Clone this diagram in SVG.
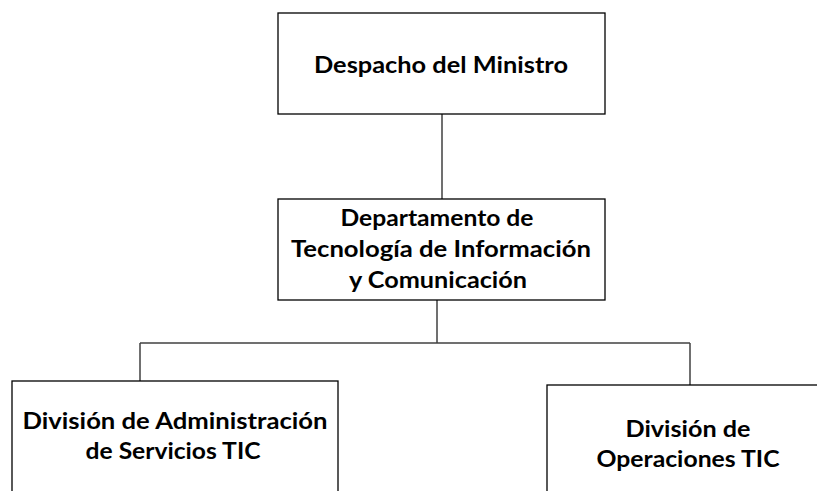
<svg xmlns="http://www.w3.org/2000/svg" width="817" height="491" viewBox="0 0 817 491">
  <style>
    .box { fill: #ffffff; stroke: #000000; stroke-width: 1.3; }
    .conn { fill: none; stroke: #404040; stroke-width: 1.5; }
    .lbl { font-family: Lato, "Open Sans", "Liberation Sans", sans-serif; font-weight: bold; font-size: 23px; fill: #000000; text-anchor: middle; }
  </style>
  <rect width="817" height="491" fill="#ffffff"/>
  <g id="connectors">
    <line class="conn" x1="442" y1="114" x2="442" y2="199"/>
    <line class="conn" x1="437" y1="300" x2="437" y2="343"/>
    <line class="conn" x1="140" y1="343" x2="690" y2="343"/>
    <line class="conn" x1="140" y1="343" x2="140" y2="381"/>
    <line class="conn" x1="690" y1="343" x2="690" y2="385"/>
  </g>
  <g id="despacho">
    <rect class="box" x="278" y="13" width="327" height="101"/>
    <text class="lbl" x="441" y="73" textLength="254" lengthAdjust="spacingAndGlyphs">Despacho del Ministro</text>
  </g>
  <g id="departamento">
    <rect class="box" x="278" y="199" width="327" height="101"/>
    <text class="lbl" x="437" y="226" textLength="193" lengthAdjust="spacingAndGlyphs">Departamento de</text>
    <text class="lbl" x="441" y="257" textLength="300" lengthAdjust="spacingAndGlyphs">Tecnología de Información</text>
    <text class="lbl" x="438" y="288" textLength="178" lengthAdjust="spacingAndGlyphs">y Comunicación</text>
  </g>
  <g id="div-admin">
    <rect class="box" x="12" y="381" width="326" height="130"/>
    <text class="lbl" x="175" y="429" textLength="305" lengthAdjust="spacingAndGlyphs">División de Administración</text>
    <text class="lbl" x="173" y="459" textLength="175" lengthAdjust="spacingAndGlyphs">de Servicios TIC</text>
  </g>
  <g id="div-oper">
    <rect class="box" x="547" y="385" width="290" height="130"/>
    <text class="lbl" x="688" y="437" textLength="125" lengthAdjust="spacingAndGlyphs">División de</text>
    <text class="lbl" x="688" y="467" textLength="183" lengthAdjust="spacingAndGlyphs">Operaciones TIC</text>
  </g>
</svg>
